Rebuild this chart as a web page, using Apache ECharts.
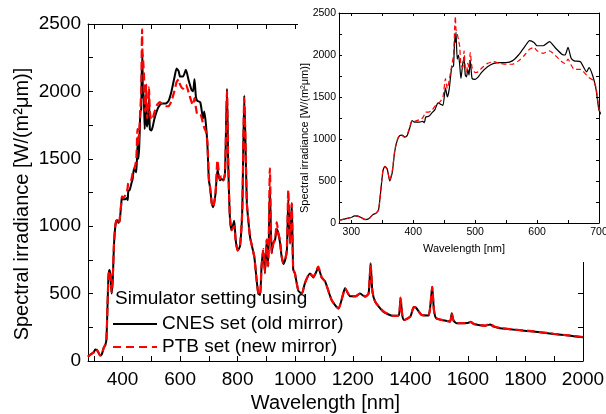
<!DOCTYPE html>
<html>
<head>
<meta charset="utf-8">
<script src="https://cdn.jsdelivr.net/npm/echarts@6/dist/echarts.min.js"></script>
<style>
  html, body { margin: 0; padding: 0; background: #fff; }
  #chart { width: 606px; height: 414px; }
</style>
</head>
<body>
<div id="chart"></div>
<script>
// Spectral irradiance of the solar simulator for two mirror/filter settings
const wavelength = [
  280, 290, 300, 305, 310, 315, 322, 328, 335, 340, 344, 348, 351, 354, 358, 362, 366, 370, 374, 378,
  382, 386, 390, 395, 398, 402, 410, 415, 418, 420, 425, 430, 435, 440, 445, 448, 452, 455, 458, 462,
  465, 467, 468, 469, 471, 473, 475, 477, 480, 482, 484, 486, 488, 490, 492, 495, 500, 505, 510, 520,
  530, 540, 550, 560, 570, 580, 588, 595, 600, 610, 620, 630, 640, 645, 650, 655, 660, 670, 680, 684,
  690, 695, 700, 704, 710, 715, 723, 730, 738, 744, 750, 756, 763, 767, 773, 779, 788, 793, 800, 808,
  816, 823, 828, 832, 837, 843, 850, 858, 866, 872, 878, 883, 889, 895, 901, 906, 912, 918, 924, 930,
  936, 941, 947, 953, 959, 965, 971, 976, 982, 988, 993, 999, 1005, 1011, 1023, 1034, 1051, 1063, 1080, 1092,
  1104, 1127, 1150, 1167, 1173, 1191, 1210, 1225, 1243, 1255, 1262, 1268, 1278, 1306, 1340, 1360, 1366, 1372, 1378, 1400,
  1412, 1420, 1440, 1463, 1470, 1476, 1482, 1490, 1520, 1538, 1544, 1550, 1562, 1600, 1610, 1620, 1660, 1677, 1690, 1712,
  1780, 1828, 1898, 1950, 2000
];

// CNES set (old mirror), W/(m²µm)
const cnesSet = [
  32, 50, 65, 85, 82, 68, 40, 50, 100, 118, 160, 420, 620, 675, 640, 500, 600, 850, 980, 1040,
  1045, 1025, 1040, 1150, 1220, 1200, 1200, 1210, 1195, 1260, 1270, 1310, 1350, 1430, 1410, 1400, 1610, 1500, 1590, 1850,
  1870, 2200, 2150, 2270, 1950, 2000, 1880, 1720, 1900, 1950, 1760, 1740, 1830, 1760, 1940, 1720, 1710, 1740, 1790, 1860,
  1900, 1910, 1910, 1930, 2000, 2100, 2170, 2150, 2110, 2110, 2160, 2080, 2010, 2000, 2090, 1960, 1930, 1920, 1800, 1850,
  1750, 1600, 1340, 1290, 1170, 1140, 1240, 1420, 1340, 1350, 1340, 1390, 2020, 1490, 1070, 970, 1040, 900, 820, 850,
  1120, 1970, 1540, 1170, 1046, 920, 850, 770, 600, 500, 490, 700, 820, 650, 900, 700, 1290, 800, 880, 900,
  980, 950, 880, 770, 720, 750, 820, 1200, 870, 1170, 680, 650, 580, 520, 500, 580, 650, 620, 690, 620,
  590, 450, 390, 500, 540, 480, 480, 500, 477, 500, 725, 520, 440, 366, 335, 340, 465, 340, 304, 330,
  400, 395, 341, 338, 420, 551, 380, 317, 300, 292, 354, 300, 280, 282, 290, 275, 262, 270, 255, 243,
  228, 218, 200, 190, 176
];

// PTB set (new mirror), W/(m²µm)
const ptbSet = [
  32, 50, 65, 88, 85, 68, 42, 50, 100, 118, 160, 430, 630, 670, 640, 510, 620, 860, 990, 1040,
  1040, 1020, 1050, 1160, 1220, 1210, 1230, 1250, 1290, 1320, 1320, 1340, 1390, 1420, 1460, 1500, 1720, 1600, 1700, 1870,
  2000, 2350, 2460, 2300, 2250, 2180, 2100, 1880, 1850, 2050, 1850, 1800, 1900, 1850, 2030, 1850, 1790, 1800, 1840, 1900,
  1920, 1900, 1890, 1890, 1930, 2000, 2070, 2090, 2050, 2020, 2050, 1990, 1920, 1900, 1950, 1880, 1830, 1830, 1760, 1730,
  1700, 1620, 1360, 1290, 1170, 1140, 1250, 1490, 1350, 1370, 1340, 1390, 2000, 1490, 1070, 970, 1000, 900, 820, 850,
  1120, 1950, 1540, 1170, 1046, 920, 850, 770, 600, 500, 490, 700, 830, 660, 900, 710, 1430, 800, 870, 900,
  1030, 950, 900, 780, 730, 750, 830, 1270, 880, 1170, 680, 650, 580, 527, 500, 580, 650, 625, 700, 620,
  590, 450, 390, 500, 540, 480, 480, 500, 480, 500, 720, 520, 440, 370, 335, 340, 470, 340, 304, 330,
  400, 395, 341, 338, 420, 551, 380, 317, 300, 292, 354, 300, 280, 282, 290, 275, 262, 275, 258, 245,
  230, 220, 202, 190, 178
];

// Tick positions and labels
const mainXTicks = [300, 400, 500, 600, 700, 800, 900, 1000, 1100, 1200, 1300, 1400, 1500, 1600, 1700, 1800, 1900, 2000];
const mainXLabels = [400, 600, 800, 1000, 1200, 1400, 1600, 1800, 2000];
const mainYTicks = [0, 250, 500, 750, 1000, 1250, 1500, 1750, 2000, 2250, 2500];
const mainYLabels = [0, 500, 1000, 1500, 2000, 2500];
const insetXTicks = [300, 350, 400, 450, 500, 550, 600, 650, 700];
const insetXLabels = [300, 400, 500, 600, 700];
const insetYTicks = [0, 250, 500, 750, 1000, 1250, 1500, 1750, 2000, 2250, 2500];
const insetYLabels = [0, 500, 1000, 1500, 2000, 2500];

const seriesNames = ['CNES set (old mirror)', 'PTB set (new mirror)'];
const legendTitle = 'Simulator setting using';
const xTitle = 'Wavelength [nm]';
const yTitle = 'Spectral irradiance [W/(m\u00B2\u03BCm)]';

const FONT = 'Liberation Sans, Arial, Helvetica, sans-serif';
const plain = v => String(v);

const cnesPairs = wavelength.map((w, i) => [w, cnesSet[i]]);
const ptbPairs = wavelength.map((w, i) => [w, ptbSet[i]]);

function xAxisDef(grid, pos, min, max, ticks, labels, opts) {
  return {
    type: 'value', gridIndex: grid, position: pos, min: min, max: max, z: opts.z,
    splitLine: { show: false },
    axisLine: { show: true, onZero: false, lineStyle: { color: '#000', width: opts.lw } },
    axisTick: { show: true, inside: true, length: opts.tick, customValues: ticks, lineStyle: { color: '#000', width: opts.lw } },
    axisLabel: pos === 'bottom'
      ? { show: true, customValues: labels, formatter: plain, color: '#000', fontSize: opts.fs, fontFamily: FONT, margin: opts.margin }
      : { show: false },
    name: pos === 'bottom' ? xTitle : '',
    nameLocation: 'middle', nameGap: opts.nameGap,
    nameTextStyle: { color: '#000', fontSize: opts.nfs, fontFamily: FONT, padding: opts.namePad }
  };
}

function yAxisDef(grid, pos, min, max, ticks, labels, opts) {
  return {
    type: 'value', gridIndex: grid, position: pos, min: min, max: max, z: opts.z,
    splitLine: { show: false },
    axisLine: { show: true, onZero: false, lineStyle: { color: '#000', width: opts.lw } },
    axisTick: { show: true, inside: true, length: opts.tick, customValues: ticks, lineStyle: { color: '#000', width: opts.lw } },
    axisLabel: pos === 'left'
      ? { show: true, customValues: labels, formatter: plain, color: '#000', fontSize: opts.fs, fontFamily: FONT, margin: opts.margin }
      : { show: false }
  };
}

const mainX = { z: 0, lw: 1, tick: 5, fs: 19, margin: 9, nameGap: 31, nfs: 20, namePad: [0, 20, 0, 0] };
const mainY = { z: 0, lw: 1, tick: 5, fs: 19, margin: 7 };
const insX = { z: 60, lw: 1, tick: 3, fs: 10.5, margin: 4, nameGap: 20, nfs: 11, namePad: [0, 10, 0, 0] };
const insY = { z: 60, lw: 1, tick: 3, fs: 10.5, margin: 3 };

const chart = echarts.init(document.getElementById('chart'), null, { renderer: 'canvas' });

chart.setOption({
  backgroundColor: '#fff',
  animation: false,
  grid: [
    { left: 88, right: 23, top: 24, bottom: 53, containLabel: false, outerBoundsMode: 'none' },
    { left: 339, right: 7, top: 13, bottom: 191, z: 60, containLabel: false, outerBoundsMode: 'none' }
  ],
  xAxis: [
    xAxisDef(0, 'bottom', 280, 2000, mainXTicks, mainXLabels, mainX),
    xAxisDef(0, 'top', 280, 2000, mainXTicks, mainXLabels, mainX),
    xAxisDef(1, 'bottom', 280, 700, insetXTicks, insetXLabels, insX),
    xAxisDef(1, 'top', 280, 700, insetXTicks, insetXLabels, insX)
  ],
  yAxis: [
    yAxisDef(0, 'left', 0, 2500, mainYTicks, mainYLabels, mainY),
    yAxisDef(0, 'right', 0, 2500, mainYTicks, mainYLabels, mainY),
    yAxisDef(1, 'left', 0, 2500, insetYTicks, insetYLabels, insY),
    yAxisDef(1, 'right', 0, 2500, insetYTicks, insetYLabels, insY)
  ],
  graphic: [
    // blank panel behind the inset
    { type: 'rect', z: 50, shape: { x: 298, y: 0, width: 308, height: 262 }, style: { fill: '#fff' } },
    // axis titles
    { type: 'text', z: 60, x: 22, y: 204, rotation: Math.PI / 2,
      style: { text: yTitle, fill: '#000', font: '20px ' + FONT, align: 'center', verticalAlign: 'middle' } },
    { type: 'text', z: 60, x: 305, y: 138, rotation: Math.PI / 2,
      style: { text: yTitle, fill: '#000', font: '11px ' + FONT, align: 'center', verticalAlign: 'middle' } },
    // legend block
    { type: 'text', z: 10, x: 115, y: 299,
      style: { text: legendTitle, fill: '#000', font: '19px ' + FONT, align: 'left', verticalAlign: 'middle' } },
    { type: 'line', z: 10, shape: { x1: 113, y1: 324, x2: 157, y2: 324 },
      style: { stroke: '#000', lineWidth: 2 } },
    { type: 'text', z: 10, x: 162, y: 324,
      style: { text: seriesNames[0], fill: '#000', font: '19px ' + FONT, align: 'left', verticalAlign: 'middle' } },
    { type: 'line', z: 10, shape: { x1: 113, y1: 347, x2: 157, y2: 347 },
      style: { stroke: '#ff0000', lineWidth: 2.2, lineDash: [8, 5] } },
    { type: 'text', z: 10, x: 162, y: 347,
      style: { text: seriesNames[1], fill: '#000', font: '19px ' + FONT, align: 'left', verticalAlign: 'middle' } }
  ],
  series: [
    { name: seriesNames[0], type: 'line', xAxisIndex: 0, yAxisIndex: 0, data: cnesPairs,
      showSymbol: false, symbol: 'none', smooth: 0.2, z: 2,
      lineStyle: { color: '#000', width: 2 }, itemStyle: { color: '#000' } },
    { name: seriesNames[1], type: 'line', xAxisIndex: 0, yAxisIndex: 0, data: ptbPairs,
      showSymbol: false, symbol: 'none', smooth: 0.2, z: 3,
      lineStyle: { color: '#ff0000', width: 2.2, type: [8, 4] }, itemStyle: { color: '#ff0000' } },
    { name: seriesNames[0], type: 'line', xAxisIndex: 2, yAxisIndex: 2, data: cnesPairs,
      showSymbol: false, symbol: 'none', smooth: 0.2, z: 70, clip: true,
      lineStyle: { color: '#000', width: 1.2 }, itemStyle: { color: '#000' } },
    { name: seriesNames[1], type: 'line', xAxisIndex: 2, yAxisIndex: 2, data: ptbPairs,
      showSymbol: false, symbol: 'none', smooth: 0.2, z: 71, clip: true,
      lineStyle: { color: '#ff0000', width: 1.2, type: [5, 3] }, itemStyle: { color: '#ff0000' } }
  ]
});
</script>
</body>
</html>
